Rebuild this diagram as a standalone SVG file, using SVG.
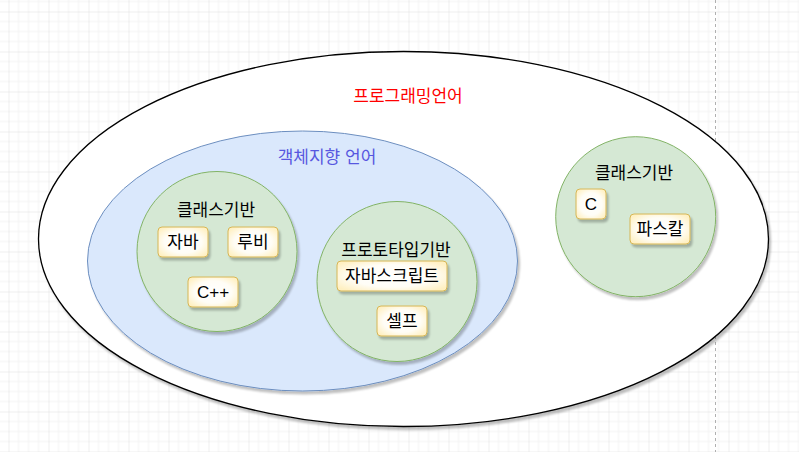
<svg xmlns="http://www.w3.org/2000/svg" width="799" height="452" viewBox="0 0 799 452">
<defs>
<style>
text{font-family:"Liberation Sans","Noto Sans CJK KR",sans-serif;font-size:17px;text-anchor:middle;dominant-baseline:central;fill:#000}
.green{fill:#d5e8d4;stroke:#82b366;stroke-width:1}
.blue{fill:#dae8fc;stroke:#6c8ebf;stroke-width:1}
.outer{fill:#fff;stroke:#000;stroke-width:1.3}
.box{fill:url(#boxg);stroke:#d6b656;stroke-width:1}
.sh{filter:url(#shadow)}
</style>
<pattern id="grid" patternUnits="userSpaceOnUse" x="8.5" y="11.5" width="40" height="40">
<path d="M10 0V40M20 0V40M30 0V40M0 10H40M0 20H40M0 30H40" stroke="#f2f2f2" stroke-width="1" fill="none"/>
<path d="M0 0V40M0 0H40" stroke="#dedede" stroke-width="1" fill="none"/>
</pattern>
<radialGradient id="boxg" cx="50%" cy="50%" r="62%">
<stop offset="0" stop-color="#ffffff"/>
<stop offset="0.6" stop-color="#fffdf6"/>
<stop offset="1" stop-color="#fff0c2"/>
</radialGradient>
<filter id="shadow" x="-10%" y="-10%" width="130%" height="130%">
<feGaussianBlur in="SourceAlpha" stdDeviation="1.2"/>
<feOffset dx="2" dy="3" result="o"/>
<feComponentTransfer><feFuncA type="linear" slope="0.25"/></feComponentTransfer>
<feMerge><feMergeNode/><feMergeNode in="SourceGraphic"/></feMerge>
</filter>
</defs>
<rect width="799" height="452" fill="#fff"/>
<rect width="799" height="452" fill="url(#grid)"/>
<line x1="715.5" y1="0" x2="715.5" y2="452" stroke="#b0b0b0" stroke-dasharray="3 3"/>

<g id="programming-lang">
<ellipse class="outer sh" cx="403.5" cy="239" rx="365" ry="187.5"/>
<text x="408" y="96" style="fill:#ff0000">프로그래밍언어</text>
</g>
<g id="oop-lang">
<ellipse class="blue sh" cx="302.5" cy="261" rx="215" ry="130"/>
<text x="327" y="157" style="fill:#5757e0">객체지향 언어</text>
</g>
<g id="class-based-oop">
<circle class="green sh" cx="217" cy="251.5" r="80"/>
<text x="216" y="210">클래스기반</text>
</g>
<g id="prototype-based">
<circle class="green sh" cx="397" cy="281.5" r="80"/>
<text x="396" y="250">프로토타입기반</text>
</g>
<g id="class-based">
<circle class="green sh" cx="635.7" cy="216.7" r="80"/>
<text x="634" y="173">클래스기반</text>
</g>
<g id="java"><rect class="box sh" x="158" y="227" width="50" height="30" rx="4"/><text x="183" y="242">자바</text></g>
<g id="ruby"><rect class="box sh" x="228" y="227" width="50" height="30" rx="4"/><text x="253" y="242">루비</text></g>
<g id="cpp"><rect class="box sh" x="188" y="277" width="50" height="30" rx="4"/><text x="213" y="292">C++</text></g>
<g id="javascript"><rect class="box sh" x="337" y="261" width="110" height="30" rx="4"/><text x="392" y="276">자바스크립트</text></g>
<g id="self"><rect class="box sh" x="377" y="306" width="50" height="30" rx="4"/><text x="402" y="321">셀프</text></g>
<g id="c"><rect class="box sh" x="576" y="189" width="30" height="30" rx="4"/><text x="591" y="204">C</text></g>
<g id="pascal"><rect class="box sh" x="630" y="214" width="60" height="30" rx="4"/><text x="660" y="229">파스칼</text></g>
<g id="connectors"></g>
</svg>
